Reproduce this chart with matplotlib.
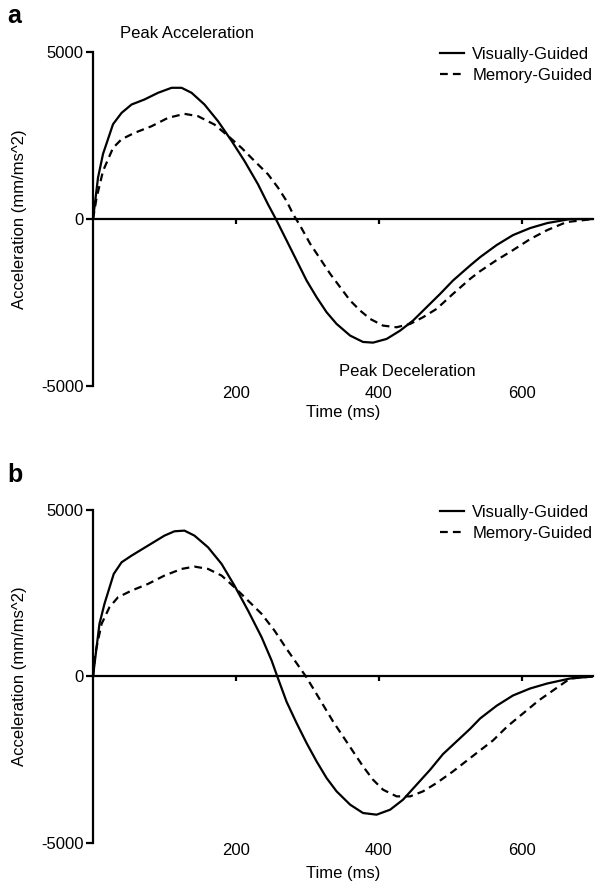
import matplotlib
matplotlib.use('Agg')
import matplotlib.pyplot as plt

plt.rcParams['font.family'] = ['Liberation Sans', 'DejaVu Sans']
plt.rcParams['font.size'] = 12
plt.rcParams['axes.unicode_minus'] = False

# values (time in ms, acceleration in mm/ms^2)
a_vis_t = [0, 7, 14, 28, 40, 54, 72, 91, 110, 124, 138, 156, 175, 194, 212, 231, 245, 256,
           271, 285, 299, 313, 327, 341, 360, 378, 392, 411, 430, 448, 467, 486, 504, 528,
           542, 565, 588, 612, 636, 668, 700]
a_vis_y = [0, 1240, 1950, 2840, 3180, 3430, 3580, 3780, 3930, 3930, 3780, 3430, 2930, 2340, 1740, 1040, 440, 0,
           -640, -1240, -1840, -2340, -2790, -3140, -3490, -3680, -3700, -3590, -3340, -3040, -2640, -2240, -1840, -1390,
           -1140, -780, -480, -270, -120, 0, 0]

a_mem_t = [0, 5, 14, 28, 40, 58, 82, 105, 128, 147, 170, 189, 208, 226, 245, 259, 271, 280,
           290, 304, 318, 332, 346, 360, 374, 388, 406, 425, 444, 462, 481, 504, 528, 542,
           565, 588, 612, 636, 663, 700]
a_mem_y = [0, 640, 1440, 2130, 2390, 2580, 2780, 3030, 3150, 3080, 2830, 2490, 2130, 1740, 1340, 940, 540, 150,
           -200, -740, -1190, -1640, -2040, -2440, -2740, -2990, -3190, -3240, -3140, -2940, -2690, -2240, -1790, -1560,
           -1230, -930, -600, -330, -90, 0]

b_vis_t = [0, 9, 16, 29, 40, 54, 77, 100, 114, 128, 142, 161, 180, 198, 217, 236, 250, 258,
           271, 285, 299, 313, 327, 341, 360, 378, 397, 416, 434, 453, 472, 490, 509, 528,
           542, 565, 588, 612, 636, 668, 700]
b_vis_y = [0, 1580, 2180, 3080, 3430, 3630, 3930, 4230, 4360, 4380, 4230, 3880, 3380, 2730, 1980, 1180, 480, 0,
           -760, -1400, -2000, -2550, -3050, -3450, -3850, -4100, -4150, -4000, -3700, -3250, -2800, -2330, -1950, -1570,
           -1260, -880, -570, -360, -210, -60, 0]

b_mem_t = [0, 3, 12, 23, 35, 54, 77, 100, 124, 142, 161, 180, 198, 217, 236, 254, 271, 285,
           298, 308, 322, 336, 350, 364, 378, 392, 406, 425, 444, 462, 481, 504, 528, 560,
           580, 602, 624, 644, 668, 700]
b_mem_y = [0, 680, 1580, 2080, 2380, 2580, 2780, 3030, 3230, 3300, 3230, 3030, 2680, 2280, 1880, 1380, 830, 400,
           0, -350, -850, -1350, -1800, -2250, -2700, -3100, -3400, -3600, -3600, -3450, -3200, -2850, -2450, -1920,
           -1500, -1110, -720, -420, -60, 0]

x_ticks = [200, 400, 600]
y_ticks = [-5000, 0, 5000]

fig = plt.figure(figsize=(5.99, 8.84), dpi=100)
ax_a = fig.add_axes([0.1553, 0.5633, 0.8347, 0.3778])
ax_b = fig.add_axes([0.1553, 0.0464, 0.8347, 0.3767])


def style_panel(ax, vis_t, vis_y, mem_t, mem_y, xlabel_pad):
    ax.plot(vis_t, vis_y, color='black', lw=1.6, label='Visually-Guided')
    ax.plot(mem_t, mem_y, color='black', lw=1.6, ls=(0, (3.5, 2.3)), label='Memory-Guided')
    ax.set_xlim(0, 700)
    ax.set_ylim(-5000, 5000)
    for s in ['top', 'right']:
        ax.spines[s].set_visible(False)
    ax.spines['bottom'].set_position(('data', 0))
    ax.spines['left'].set_linewidth(1.6)
    ax.spines['bottom'].set_linewidth(1.6)
    ax.set_yticks(y_ticks)
    ax.set_xticks(x_ticks)
    ax.tick_params(axis='y', length=5, width=1.6, pad=2)
    ax.tick_params(axis='x', length=3.5, width=1.6, labelbottom=False)
    ax.set_ylabel('Acceleration (mm/ms^2)', labelpad=10)

    # tick labels sit under the panel, not on the zero line
    sec = ax.secondary_xaxis(0.0)
    sec.set_xticks(x_ticks)
    sec.tick_params(length=0, pad=0)
    sec.spines['bottom'].set_visible(False)
    sec.set_xlabel('Time (ms)', labelpad=xlabel_pad)

    ax.legend(loc='upper right', bbox_to_anchor=(1.012, 1.035), frameon=False,
              handlelength=1.45, handletextpad=0.5, labelspacing=0.35, borderaxespad=0)


style_panel(ax_a, a_vis_t, a_vis_y, a_mem_t, a_mem_y, 3)
style_panel(ax_b, b_vis_t, b_vis_y, b_mem_t, b_mem_y, 6)

ax_a.text(38, 5560, 'Peak Acceleration', va='center', clip_on=False)
ax_a.text(344, -4550, 'Peak Deceleration', va='center', clip_on=False)

fig.text(0.012, 1 - 23 / 884, 'a', fontsize=18, fontweight='bold', va='baseline')
fig.text(0.012, 1 - 482 / 884, 'b', fontsize=18, fontweight='bold', va='baseline')

fig.savefig('out.png', dpi=100, facecolor='white')
